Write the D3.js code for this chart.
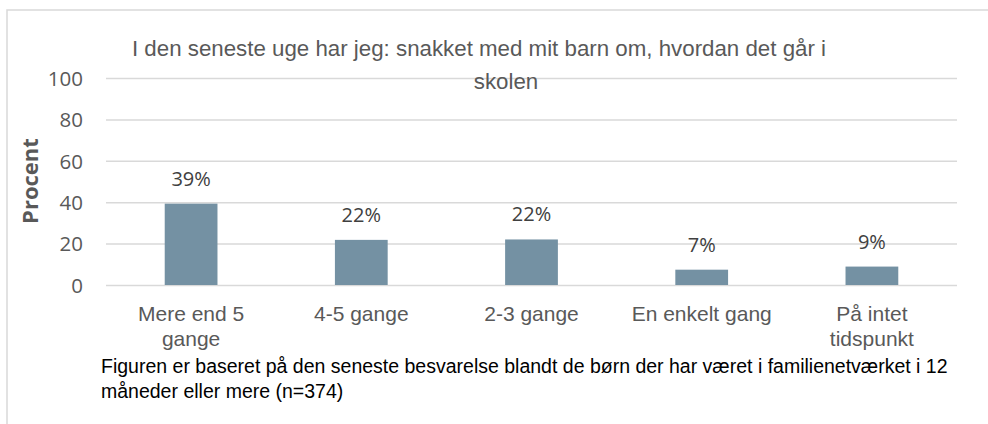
<!DOCTYPE html>
<html>
<head>
<meta charset="utf-8">
<script src="https://cdn.jsdelivr.net/npm/d3@7"></script>
<style>
  html, body { margin: 0; padding: 0; background: #fff; }
  svg { display: block; }
</style>
</head>
<body>
<svg id="chart" width="988" height="424"></svg>
<script>
// Survey answers: how often the parent talked with the child about school last week
const categories = [["Mere end 5", "gange"], ["4-5 gange"], ["2-3 gange"], ["En enkelt gang"], ["På intet", "tidspunkt"]];
const categoryKeys = ["Mere end 5 gange", "4-5 gange", "2-3 gange", "En enkelt gang", "På intet tidspunkt"];
const values = [39.3, 21.8, 22.0, 7.4, 8.9];
const yTicks = [0, 20, 40, 60, 80, 100];
const titleLines = ["I den seneste uge har jeg: snakket med mit barn om, hvordan det går i", "skolen"];
const captionLines = ["Figuren er baseret på den seneste besvarelse blandt de børn der har været i familienetværket i 12", "måneder eller mere (n=374)"];

const svg = d3.select("#chart");
const sans = "'Liberation Sans', Arial, sans-serif";
const ui = "'Open Sans', 'Noto Sans', sans-serif";

// chart frame
svg.append("rect")
  .attr("x", 7).attr("y", 10).attr("width", 1000).attr("height", 440)
  .attr("fill", "#fff").attr("stroke", "#d9d9d9").attr("stroke-width", 1.5);

const plot = { left: 106, right: 957, top: 78, bottom: 285 };

const x = d3.scaleBand().domain(categoryKeys).range([plot.left, plot.right]).paddingInner(0.69).paddingOuter(0.345);
const y = d3.scaleLinear().domain([0, 100]).range([plot.bottom, plot.top]);

// gridlines + tick labels
const yAxis = d3.axisLeft(y).tickValues(yTicks).tickSize(-(plot.right - plot.left)).tickPadding(23);
const gy = svg.append("g").attr("transform", `translate(${plot.left},0)`).call(yAxis);
gy.select(".domain").remove();
gy.selectAll(".tick line").attr("stroke", "#d9d9d9").attr("stroke-width", 1.5);
gy.selectAll(".tick text")
  .attr("fill", "#595959").attr("font-family", ui).attr("font-size", 20.5)
  .attr("dy", "0.36em");

// title
svg.append("g").selectAll("text").data(titleLines).join("text")
  .attr("x", (d, i) => i === 0 ? 479 : 506)
  .attr("y", (d, i) => 56 + i * 33)
  .attr("text-anchor", "middle")
  .attr("font-family", sans).attr("font-size", 22.3)
  .attr("fill", "#595959")
  .text(d => d);

// bars
svg.append("g").selectAll("rect").data(values).join("rect")
  .attr("x", (d, i) => x(categoryKeys[i]))
  .attr("width", x.bandwidth())
  .attr("y", d => y(d))
  .attr("height", d => y(0) - y(d))
  .attr("fill", "#7491a3");

// value labels
svg.append("g").selectAll("text").data(values).join("text")
  .attr("x", (d, i) => x(categoryKeys[i]) + x.bandwidth() / 2)
  .attr("y", d => y(d) - 18)
  .attr("text-anchor", "middle")
  .attr("font-family", ui).attr("font-size", 20)
  .attr("fill", "#404040")
  .text(d => d3.format(".0f")(d) + "%");

// category labels
const cat = svg.append("g").selectAll("text").data(categories).join("text")
  .attr("x", (d, i) => x(categoryKeys[i]) + x.bandwidth() / 2)
  .attr("y", 321)
  .attr("text-anchor", "middle")
  .attr("font-family", sans).attr("font-size", 21)
  .attr("fill", "#595959");
cat.selectAll("tspan").data(d => d).join("tspan")
  .attr("x", function () { return this.parentNode.getAttribute("x"); })
  .attr("dy", (d, i) => i === 0 ? 0 : 25)
  .text(d => d);

// axis title
svg.append("text")
  .attr("transform", "translate(38,181) rotate(-90)")
  .attr("text-anchor", "middle")
  .attr("font-family", ui).attr("font-weight", "bold").attr("font-size", 22)
  .attr("fill", "#595959")
  .text("Procent");

// caption
svg.append("g").selectAll("text").data(captionLines).join("text")
  .attr("x", 101)
  .attr("y", (d, i) => 373 + i * 25)
  .attr("font-family", sans).attr("font-size", 19.5)
  .attr("fill", "#000")
  .text(d => d);
</script>
</body>
</html>
